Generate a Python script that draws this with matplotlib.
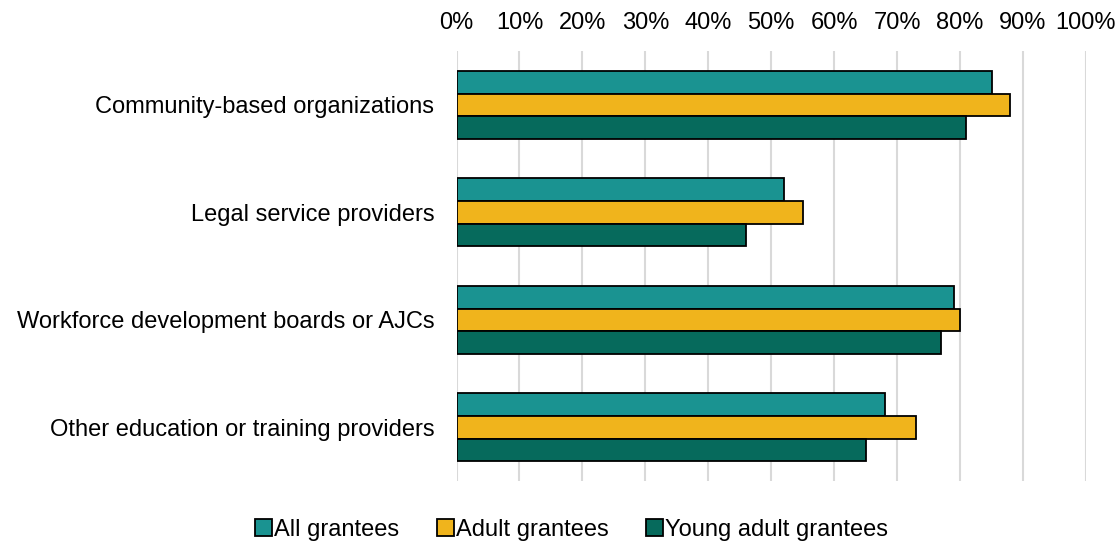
import numpy as np
import matplotlib.pyplot as plt
from matplotlib.ticker import PercentFormatter

plt.rcParams['font.family'] = ['Liberation Sans', 'DejaVu Sans']

categories = ['Community-based organizations', 'Legal service providers',
              'Workforce development boards or AJCs', 'Other education or training providers']
all_grantees = [85, 52, 79, 68]
adult_grantees = [88, 55, 80, 73]
young_adult_grantees = [81, 46, 77, 65]

series = [('All grantees', all_grantees, '#1A9391'),
          ('Adult grantees', adult_grantees, '#F0B41C'),
          ('Young adult grantees', young_adult_grantees, '#066A5C')]

fig = plt.figure(figsize=(11.19, 5.43), dpi=100)
ax = fig.add_axes([0.408, 0.114, 0.5625, 0.792])

y = np.arange(len(categories))
h = 0.21
for i, (name, vals, col) in enumerate(series):
    ax.barh(y + (i - 1) * h, vals, height=h, color=col, edgecolor='black',
            linewidth=1.3, label=name, zorder=3)

fs = 17
ax.set_ylim(len(categories) - 0.5, -0.5)
ax.set_yticks(y)
ax.set_yticklabels(categories, fontsize=fs)
ax.set_xlim(0, 100)
ax.set_xticks(np.arange(0, 101, 10))
ax.xaxis.set_major_formatter(PercentFormatter(decimals=0))
ax.xaxis.tick_top()
ax.tick_params(axis='x', labelsize=fs, length=0, pad=12)
ax.tick_params(axis='y', length=0, pad=16)
ax.grid(axis='x', color='#D9D9D9', linewidth=1.5, zorder=0)
for s in ax.spines.values():
    s.set_visible(False)

fig.legend(loc='center', bbox_to_anchor=(0.511, 0.024), ncol=3, frameon=False,
           fontsize=fs, handlelength=0.7, handleheight=0.7, handletextpad=0.1,
           columnspacing=1.6)

fig.savefig('out.png', dpi=100)
